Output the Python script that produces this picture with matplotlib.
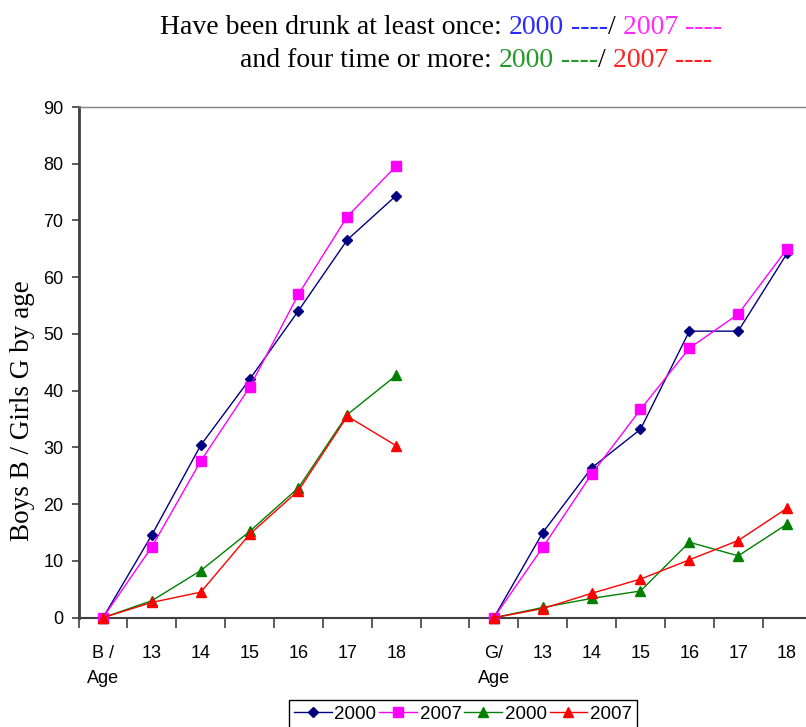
import numpy as np
import matplotlib
matplotlib.use("Agg")
import matplotlib.pyplot as plt

# categories: boys block, empty gap, girls block
categories = ["B /\nAge", "13", "14", "15", "16", "17", "18", "",
              "G/\nAge", "13", "14", "15", "16", "17", "18"]

nan = np.nan
once_2000 = [0, 14.6, 30.4, 42.0, 54.1, 66.6, 74.4, nan,
             0, 15.0, 26.4, 33.2, 50.5, 50.5, 64.2]
once_2007 = [0, 12.5, 27.6, 40.6, 57.0, 70.7, 79.6, nan,
             0, 12.4, 25.3, 36.7, 47.5, 53.5, 65.0]
four_2000 = [0, 3.0, 8.3, 15.2, 22.9, 35.8, 42.7, nan,
             0, 1.8, 3.4, 4.7, 13.3, 10.9, 16.5]
four_2007 = [0, 2.7, 4.5, 14.7, 22.4, 35.5, 30.3, nan,
             0, 1.6, 4.3, 6.8, 10.2, 13.6, 19.3]

series = [
    (once_2000, "2000", "#000080", "D", 5),
    (once_2007, "2007", "#ff00ff", "s", 6.5),
    (four_2000, "2000", "#008000", "^", 7),
    (four_2007, "2007", "#ff0000", "^", 7),
]

W, H = 806, 727
fig = plt.figure(figsize=(W / 100, H / 100), dpi=100)

# plot area runs past the right edge like in the original
left, bottom, top = 78.6, 727 - 617.7, 727 - 107
width = 15 * 48.86
ax = fig.add_axes([left / W, bottom / H, width / W, (top - bottom) / H])

x = np.arange(len(categories))
handles = []
for vals, lab, col, mk, ms in series:
    h, = ax.plot(x, vals, color=col, lw=1.0, marker=mk, markersize=ms,
                 label=lab, clip_on=False, zorder=3)
    handles.append(h)

ax.set_xlim(-0.5, len(categories) - 0.5)
ax.set_ylim(0, 90)

# ticks at category boundaries, labels at centres
ax.set_xticks(np.arange(len(categories) + 1) - 0.5)
ax.set_xticklabels([])
ax.set_xticks(x, minor=True)
ax.set_xticklabels(categories, minor=True, fontsize=13, family="Liberation Sans",
                   linespacing=1.55)
ax.tick_params(axis="x", which="major", direction="out", length=7, width=1.2, color="#404040")
ax.tick_params(axis="x", which="minor", length=0, pad=20)

ax.set_yticks(np.arange(0, 91, 10))
ax.set_yticklabels([str(v) for v in range(0, 91, 10)], fontsize=13, family="Liberation Sans")
ax.tick_params(axis="y", direction="out", length=5, width=1.2, color="#404040", pad=6)

ax.spines["left"].set_color("#404040")
ax.spines["left"].set_linewidth(2)
ax.spines["bottom"].set_color("#404040")
ax.spines["bottom"].set_linewidth(1.5)
ax.spines["top"].set_color("#808080")
ax.spines["top"].set_linewidth(1)
ax.spines["right"].set_visible(False)

fig.text(23 / W, 1 - 411 / H, "Boys B / Girls G by age", rotation=90,
         ha="center", va="center", fontsize=19.5, family="Liberation Serif")


# multicoloured title, one piece after the other
def rainbow(x0, y0, parts):
    t = fig.text(x0, y0, parts[0][0], color=parts[0][1], fontsize=20,
                 family="Liberation Serif", va="baseline")
    for s, c in parts[1:]:
        t = ax.annotate(s, xy=(1, 0), xycoords=t, va="bottom", color=c,
                        fontsize=20, family="Liberation Serif", annotation_clip=False)


rainbow(160 / W, 1 - 34 / H, [
    ("Have been drunk at least once: ", "black"),
    ("2000", "#2a2aff"), (" ----", "#2a2aff"), ("/", "black"),
    (" 2007", "#ff2aff"), (" ----", "#ff2aff"),
])
rainbow(240 / W, 1 - 67 / H, [
    ("and four time or more: ", "black"),
    ("2000", "#22992a"), (" ----", "#22992a"), ("/", "black"),
    (" 2007", "#ff2020"), (" ----", "#ff2020"),
])

leg = fig.legend(handles=handles, loc="upper center", ncol=4,
                 bbox_to_anchor=(463 / W, 1 - 700 / H), bbox_transform=fig.transFigure,
                 prop={"family": "Liberation Sans", "size": 13.5},
                 handlelength=2.0, handletextpad=0.15, columnspacing=0.15,
                 borderpad=0.3, borderaxespad=0, fancybox=False, framealpha=1)
leg.get_frame().set_edgecolor("black")
leg.get_frame().set_linewidth(1)

fig.savefig("out.png", dpi=100)
